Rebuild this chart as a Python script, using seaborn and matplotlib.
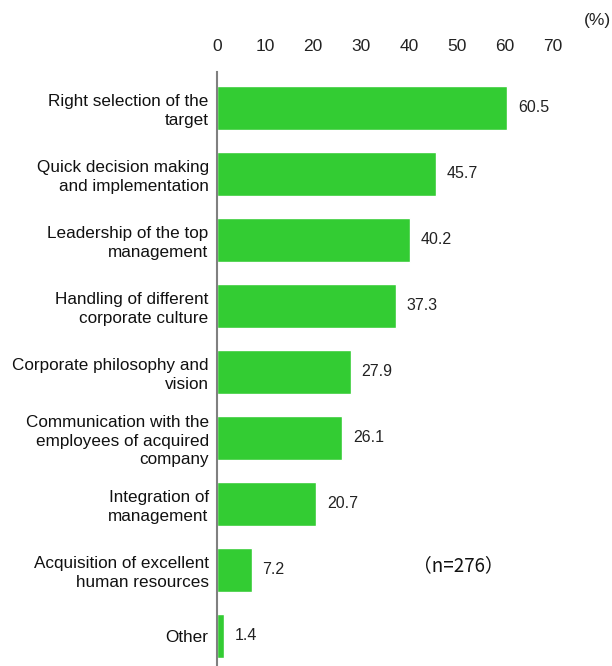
import matplotlib
matplotlib.use("Agg")
import matplotlib.pyplot as plt
import seaborn as sns
import pandas as pd
from matplotlib import font_manager

categories = [
    "Right selection of the\ntarget",
    "Quick decision making\nand implementation",
    "Leadership of the top\nmanagement",
    "Handling of different\ncorporate culture",
    "Corporate philosophy and\nvision",
    "Communication with the\nemployees of acquired\ncompany",
    "Integration of\nmanagement",
    "Acquisition of excellent\nhuman resources",
    "Other",
]
values = [60.5, 45.7, 40.2, 37.3, 27.9, 26.1, 20.7, 7.2, 1.4]
x_ticks = [0, 10, 20, 30, 40, 50, 60, 70]

sns.set_theme(style="white")
plt.rcParams["font.family"] = ["Liberation Sans", "DejaVu Sans"]

installed = {f.name for f in font_manager.fontManager.ttflist}
narrow = "Liberation Sans Narrow" if "Liberation Sans Narrow" in installed else "Liberation Sans"

df = pd.DataFrame({"category": categories, "value": values})

W, H = 612, 666
fig = plt.figure(figsize=(W / 100, H / 100), dpi=100)
ax = fig.add_axes([217 / W, 0.0, (553 - 217) / W, (H - 72) / H])

sns.barplot(data=df, x="value", y="category", order=categories,
            color="#33cc33", saturation=1, width=0.67, ax=ax)

ax.set_xlim(0, 70)
ax.set_ylim(len(categories) - 1 + 0.455, -0.545)
ax.set_xticks(x_ticks)
ax.xaxis.tick_top()
ax.tick_params(axis="x", length=0, pad=13, labelsize=12.5, colors="#222222")
for lbl in ax.get_xticklabels():
    lbl.set_family(narrow)
ax.tick_params(axis="y", length=0, pad=6, labelsize=12.3, colors="#111111")
for lbl in ax.get_yticklabels():
    lbl.set_horizontalalignment("right")
    lbl.set_multialignment("right")
    lbl.set_linespacing(1.3)
ax.set_xlabel("")
ax.set_ylabel("")

for s in ["top", "right", "bottom"]:
    ax.spines[s].set_visible(False)
ax.spines["left"].set_color("#808080")
ax.spines["left"].set_linewidth(1.5)

for i, v in enumerate(values):
    ax.text(v + 2.2, i, f"{v:.1f}", va="center", ha="left",
            fontsize=11.5, color="#222222", family=narrow)

fig.text(597 / W, 1 - 20 / H, "(%)", ha="center", va="center",
         fontsize=12.5, color="#222222", family=narrow)
fig.text(458 / W, 1 - 566 / H, "（n=276）", ha="center", va="center",
         fontsize=13.5, color="#111111",
         family=["Noto Sans CJK JP", "Liberation Sans"])

fig.savefig("out.png", dpi=100)
